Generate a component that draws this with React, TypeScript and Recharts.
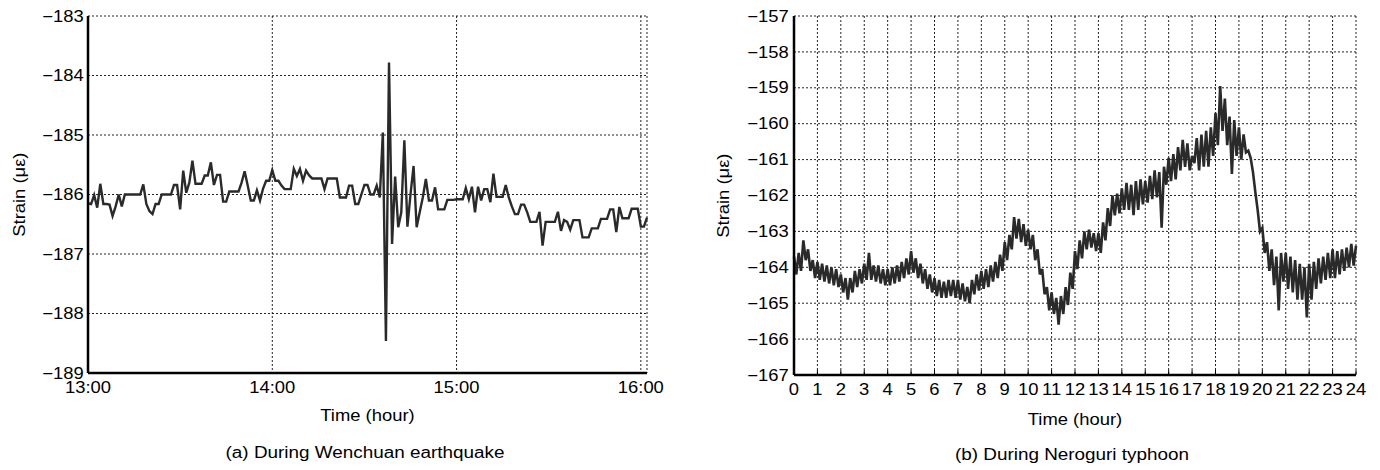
import { CartesianGrid, Label, Line, LineChart, XAxis, YAxis } from "recharts"

// (a) Wenchuan earthquake: one reading per minute from 13:00
const quakeStrain = [
  -186.15, -186.16, -186.01, -186.22, -185.82, -186.16, -186.16, -186.17, -186.36, -186.2,
  -186.0, -186.2, -186.0, -186.0, -186.0, -186.0, -186.0, -186.0, -185.83, -186.16,
  -186.28, -186.33, -186.16, -186.16, -186.0, -186.0, -186.0, -186.0, -185.84, -185.84,
  -186.25, -185.6, -185.97, -185.8, -185.43, -185.82, -185.82, -185.82, -185.68, -185.68,
  -185.46, -185.84, -185.67, -185.67, -186.12, -186.12, -185.95, -185.95, -185.95, -185.95,
  -185.8, -185.61, -185.85, -186.1, -186.1, -185.93, -186.1, -185.9, -185.77, -185.77,
  -185.59, -185.77, -185.77, -185.85, -185.91, -185.91, -185.91, -185.57, -185.69, -185.57,
  -185.77, -185.6, -185.68, -185.73, -185.73, -185.73, -185.73, -185.91, -185.73, -185.73,
  -185.73, -185.73, -186.05, -186.05, -186.05, -185.85, -185.85, -186.16, -186.16, -186.0,
  -185.84, -185.84, -186.0, -186.0, -185.85, -186.05, -184.96, -188.46, -183.78, -186.83,
  -185.7, -186.55, -186.3, -185.09, -186.54, -186.0, -185.52, -186.55, -186.3, -186.05,
  -185.74, -186.1, -186.1, -185.88, -186.25, -186.25, -186.25, -186.09, -186.09, -186.09,
  -186.08, -186.08, -186.08, -185.89, -186.08, -185.87, -186.3, -185.87, -186.1, -185.91,
  -185.91, -186.13, -185.65, -186.04, -186.04, -186.04, -185.84, -186.05, -186.2, -186.33,
  -186.33, -186.17, -186.17, -186.3, -186.46, -186.46, -186.46, -186.29, -186.86, -186.46,
  -186.46, -186.46, -186.46, -186.29, -186.61, -186.43, -186.46, -186.59, -186.43, -186.43,
  -186.43, -186.72, -186.72, -186.72, -186.57, -186.57, -186.57, -186.41, -186.41, -186.41,
  -186.25, -186.25, -186.63, -186.21, -186.4, -186.4, -186.4, -186.24, -186.24, -186.24,
  -186.54, -186.54, -186.39,
]
const quakeTickMinutes = [0, 60, 120, 180]
const quakeTickLabels = ["13:00", "14:00", "15:00", "16:00"]
const quakeYTicks = [-189, -188, -187, -186, -185, -184, -183]

// (b) Neroguri typhoon: one reading every 0.1 hour from 0 h
const typhoonStrain = [
  -163.7, -164.2, -163.6, -164.1, -163.25, -163.8, -163.5, -164.1, -163.8, -164.3,
  -163.85, -164.35, -163.9, -164.4, -163.95, -164.45, -164.0, -164.5, -164.05, -164.55,
  -164.2, -164.7, -164.3, -164.9, -164.3, -164.7, -164.1, -164.55, -164.05, -164.45,
  -163.9, -164.35, -163.6, -164.35, -163.95, -164.4, -163.95, -164.45, -164.05, -164.5,
  -164.05, -164.5, -164.0, -164.45, -163.95, -164.4, -163.85, -164.3, -163.75, -164.2,
  -163.55, -164.15, -163.75, -164.3, -163.9, -164.45, -164.05, -164.6, -164.2, -164.7,
  -164.3, -164.8, -164.35, -164.85, -164.4, -164.85, -164.35, -164.8, -164.35, -164.85,
  -164.35, -164.9, -164.45, -164.95, -164.55, -165.0, -164.35, -164.75, -164.2, -164.65,
  -164.1, -164.6, -164.05, -164.55, -163.95, -164.4, -163.85, -164.3, -163.65, -164.1,
  -163.3, -163.8, -163.1, -163.5, -162.6, -163.2, -162.65, -163.3, -162.8, -163.4,
  -162.95, -163.5, -163.1, -163.8, -163.5, -164.2, -164.05, -164.75, -164.55, -165.2,
  -164.7, -165.3, -164.85, -165.6, -164.8, -165.3, -164.55, -165.05, -164.15, -164.6,
  -163.55, -164.05, -163.25, -163.75, -163.0, -163.5, -162.95, -163.45, -163.05, -163.55,
  -163.05, -163.6, -162.75, -163.25, -162.35, -162.85, -162.0, -162.55, -161.95, -162.5,
  -161.8, -162.4, -161.65, -162.4, -161.7, -162.55, -161.6, -162.4, -161.55, -162.25,
  -161.6, -162.2, -161.45, -162.1, -161.3, -162.05, -161.35, -162.9, -161.2, -161.7,
  -160.95, -161.6, -160.85, -161.55, -160.65, -161.3, -160.45, -161.2, -160.55, -161.3,
  -160.9, -161.1, -160.4, -161.3, -160.3, -161.2, -160.2, -161.2, -160.1, -160.9,
  -159.7, -160.6, -158.95, -160.2, -159.3, -160.6, -159.8, -161.4, -159.9, -160.9,
  -160.1, -161.0, -160.3, -160.8, -160.75, -160.95, -161.35, -161.9, -162.4, -163.0,
  -162.9, -163.6, -163.3, -164.1, -163.5, -164.5, -163.7, -165.2, -163.6, -164.4,
  -163.6, -164.6, -163.7, -164.7, -163.8, -164.9, -163.9, -164.9, -164.0, -165.4,
  -163.9, -164.9, -163.85, -164.6, -163.75, -164.45, -163.7, -164.35, -163.6, -164.3,
  -163.5, -164.3, -163.55, -164.2, -163.5, -164.1, -163.45, -164.0, -163.35, -163.95,
  -163.4,
]
const typhoonHourTicks = [0, 1, 2, 3, 4, 5, 6, 7, 8, 9, 10, 11, 12, 13, 14, 15, 16, 17, 18, 19, 20, 21, 22, 23, 24]
const typhoonYTicks = [-167, -166, -165, -164, -163, -162, -161, -160, -159, -158, -157]

const quakeData = quakeStrain.map((v, i) => ({ t: i, v }))
const typhoonData = typhoonStrain.map((v, i) => ({ h: i / 10, v }))

const minus = (v: number) => String(v).replace("-", "\u2212")
const tickStyle = { fontSize: 16, fill: "#000" }
const titleStyle = { fontSize: 16, fill: "#000" }
const frame = { stroke: "#000", strokeWidth: 2.5 }
const font = "'Liberation Sans', Arial, Helvetica, sans-serif"

// the original lettering is a little wider than Liberation Sans
const css = `
.recharts-cartesian-axis-tick-value, .axis-title {
  transform-box: fill-box; transform-origin: center; transform: scaleX(1.15);
}
.recharts-yAxis .recharts-cartesian-axis-tick-value { transform-origin: right center; }
.y-title { transform-box: fill-box; transform-origin: center; transform: rotate(-90deg) scaleX(1.15); }
`

function QuakeChart() {
  return (
    <LineChart width={700} height={470} data={quakeData} margin={{ top: 16, right: 53, bottom: 49, left: 0 }}>
      <CartesianGrid stroke="#222" strokeDasharray="2 2" />
      <XAxis
        dataKey="t"
        type="number"
        domain={[0, 182]}
        ticks={quakeTickMinutes}
        tickFormatter={(m) => quakeTickLabels[quakeTickMinutes.indexOf(m)]}
        tick={tickStyle}
        tickLine={false}
        tickSize={0}
        tickMargin={9}
        axisLine={frame}
        height={48}
      >
        <Label value="Time (hour)" className="axis-title" position="insideBottom" offset={0} style={titleStyle} />
      </XAxis>
      <XAxis xAxisId="top" orientation="top" dataKey="t" type="number" domain={[0, 182]} tick={false} tickLine={false} axisLine={frame} height={0} />
      <YAxis
        domain={[-189, -183]}
        ticks={quakeYTicks}
        tickFormatter={minus}
        tick={tickStyle}
        tickLine={false}
        tickSize={0}
        tickMargin={7}
        axisLine={frame}
        width={88}
      >
        <Label value="Strain (με)" className="y-title" angle={-90} position="insideLeft" offset={19} style={{ ...titleStyle, textAnchor: "middle" }} />
      </YAxis>
      <YAxis yAxisId="right" orientation="right" domain={[-189, -183]} tick={false} tickLine={false} axisLine={frame} width={0} />
      <Line dataKey="v" stroke="#2a2a2a" strokeWidth={2.4} dot={false} isAnimationActive={false} />
    </LineChart>
  )
}

function TyphoonChart() {
  return (
    <LineChart width={680} height={470} data={typhoonData} margin={{ top: 16, right: 24, bottom: 45, left: 0 }}>
      <CartesianGrid stroke="#222" strokeDasharray="2 2" />
      <XAxis
        dataKey="h"
        type="number"
        domain={[0, 24]}
        ticks={typhoonHourTicks}
        interval={0}
        tick={tickStyle}
        tickLine={{ stroke: "#000" }}
        tickSize={-5}
        tickMargin={14}
        axisLine={frame}
        height={50}
      >
        <Label value="Time (hour)" className="axis-title" position="insideBottom" offset={0} style={titleStyle} />
      </XAxis>
      <XAxis xAxisId="top" orientation="top" dataKey="h" type="number" domain={[0, 24]} tick={false} tickLine={false} axisLine={frame} height={0} />
      <YAxis
        domain={[-167, -157]}
        ticks={typhoonYTicks}
        interval={0}
        tickFormatter={minus}
        tick={tickStyle}
        tickLine={false}
        tickSize={0}
        tickMargin={8}
        axisLine={frame}
        width={94}
      >
        <Label value="Strain (με)" className="y-title" angle={-90} position="insideLeft" offset={23} style={{ ...titleStyle, textAnchor: "middle" }} />
      </YAxis>
      <YAxis yAxisId="right" orientation="right" domain={[-167, -157]} tick={false} tickLine={false} axisLine={frame} width={0} />
      <Line dataKey="v" stroke="#2a2a2a" strokeWidth={2.6} strokeLinejoin="miter" dot={false} isAnimationActive={false} />
    </LineChart>
  )
}

export default function App() {
  const caption = {
    position: "absolute" as const,
    width: 400,
    textAlign: "center" as const,
    fontSize: 16,
    lineHeight: "18px",
    transform: "scaleX(1.18)",
  }
  return (
    <div style={{ position: "absolute", left: 0, top: 0, width: 1380, height: 470, background: "#fff", fontFamily: font, color: "#000" }}>
      <style>{css}</style>
      <div style={{ position: "absolute", left: 0, top: 0 }}>
        <QuakeChart />
      </div>
      <div style={{ position: "absolute", left: 700, top: 0 }}>
        <TyphoonChart />
      </div>
      <div style={{ ...caption, left: 165, top: 444 }}>(a) During Wenchuan earthquake</div>
      <div style={{ ...caption, left: 872, top: 446 }}>(b) During Neroguri typhoon</div>
    </div>
  )
}
